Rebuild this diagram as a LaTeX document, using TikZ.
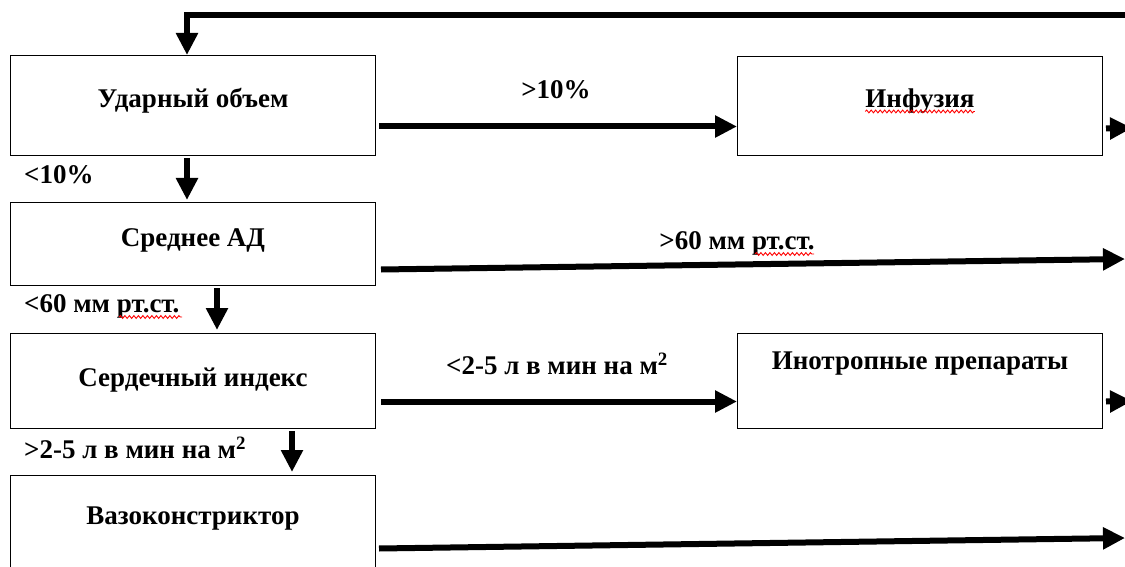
\documentclass[tikz,border=0pt]{standalone}
\usepackage{fontspec}
\setmainfont{Liberation Serif}
\usetikzlibrary{arrows.meta,decorations.pathmorphing}
\begin{document}
\begin{tikzpicture}[x=1pt,y=-1pt,
  box/.style={draw, line width=1pt, minimum width=365pt, inner sep=0pt, anchor=north west},
  txt/.style={font=\fontsize{27}{32}\selectfont\bfseries, inner sep=0pt},
  arr/.style={line width=6pt, line join=miter, -{Triangle[length=22pt,width=21pt]}},
  spell/.style={red, line width=0.9pt, decorate, decoration={snake, amplitude=1.4pt, segment length=4.5pt}}]
\useasboundingbox (0,0) rectangle (1125,567);
% boxes
\node[box, minimum height=100pt] (b1) at (10,55) {};
\node[box, minimum height=83pt] (b2) at (10,202) {};
\node[box, minimum height=95pt] (b3) at (10,333) {};
\node[box, minimum height=110pt] (b5) at (10,475) {};
\node[box, minimum height=99pt] (inf) at (737,56) {};
\node[box, minimum height=95pt] (ino) at (737,333) {};
% box texts
\node[txt] (t1) at (193,101) {Ударный объем};
\node[txt] (t2) at (193,240) {Среднее АД};
\node[txt] (t3) at (193,380) {Сердечный индекс};
\node[txt] (t5) at (193,519) {Вазоконстриктор};
\node[txt] (tinf) at (920,101) {Инфузия};
\node[txt] (tino) at (920,364) {Инотропные препараты};
% labels
\node[txt] (l1) at (556,90) {>10\%};
\node[txt, anchor=west] (l2) at (24,175) {<10\%};
\node[txt] (l3) at (737,243) {>60 мм рт.ст.};
\node[txt, anchor=west] (l4) at (24,306) {<60 мм рт.ст.};
\node[txt] (l5) at (557,364) {<2-5 л в мин на м\textsuperscript{2}};
\node[txt, anchor=west] (l6) at (24,448) {>2-5 л в мин на м\textsuperscript{2}};
% free ends
\coordinate (topR) at (1130,15);
\coordinate (topL) at (187,15);
\coordinate (x2) at (217,0);
\coordinate (x3) at (292,0);
\coordinate (r1) at (1132,128);
\coordinate (r2) at (1125,259);
\coordinate (r3) at (1132,401);
\coordinate (r5) at (1125,538);
% connectors
\draw[arr] (topR) -- (topL) -- (topL |- b1.north);
\draw[arr] ([yshift=-2pt]topL |- b1.south) -- ([yshift=2pt]topL |- b2.north);
\draw[arr] ([yshift=-2pt]x2 |- b2.south) -- ([yshift=3pt]x2 |- b3.north);
\draw[arr] ([yshift=-2pt]x3 |- b3.south) -- ([yshift=3pt]x3 |- b5.north);
\draw[arr] ([xshift=3pt,yshift=-21pt]b1.east) -- ([yshift=-20.5pt]inf.west);
\draw[arr] ([xshift=5pt,yshift=-25.5pt]b2.east) -- (r2);
\draw[arr] ([xshift=5pt,yshift=-20.5pt]b3.east) -- ([yshift=-20.5pt]ino.west);
\draw[arr] ([xshift=3pt,yshift=-22.5pt]inf.east) -- (r1);
\draw[arr] ([xshift=3pt,yshift=-20.5pt]ino.east) -- (r3);
\draw[arr] ([xshift=3pt,yshift=-18pt]b5.east) -- (r5);
% spelling underlines
\draw[spell] ([yshift=-4pt]tinf.base west) -- ([yshift=-4pt]tinf.base east);
\draw[spell] (755,254) -- (814,254);
\draw[spell] (119,317) -- (182,317);
\end{tikzpicture}
\end{document}
